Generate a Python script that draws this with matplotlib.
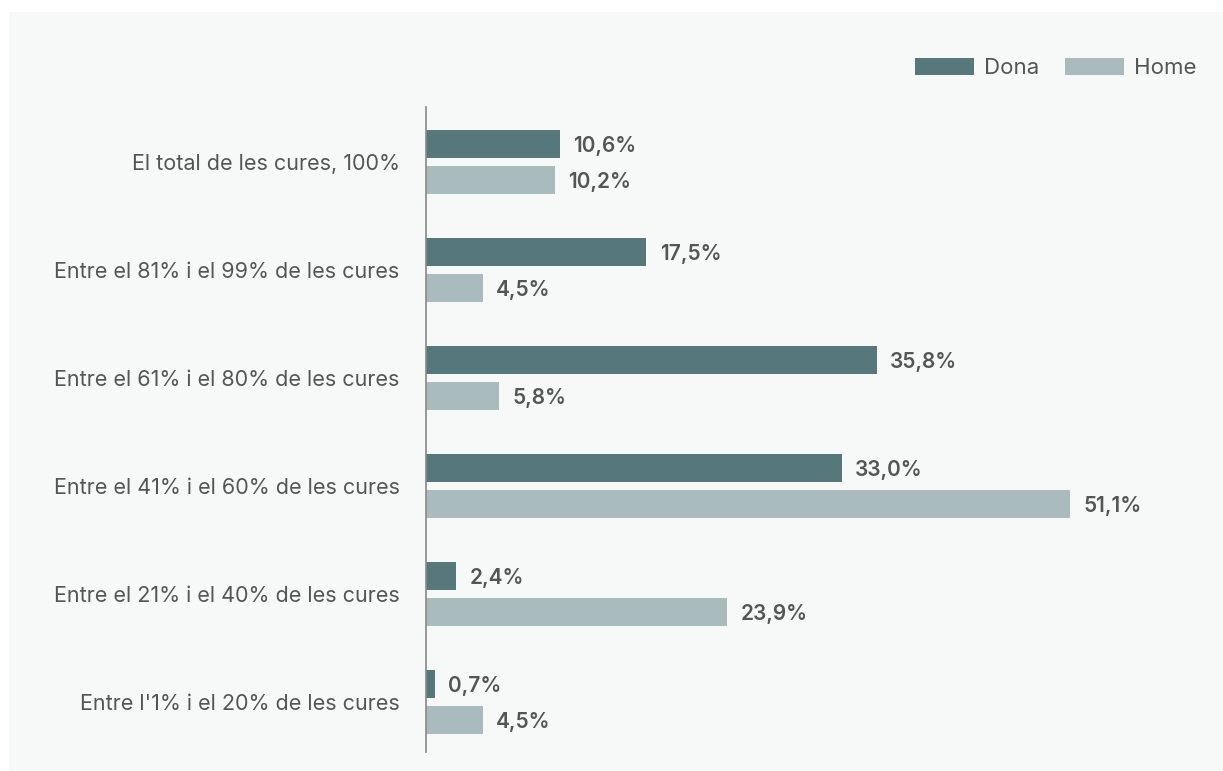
import matplotlib
matplotlib.use("Agg")
import matplotlib.pyplot as plt
from matplotlib.patches import Patch, Rectangle
import numpy as np

categories = [
    "El total de les cures, 100%",
    "Entre el 81% i el 99% de les cures",
    "Entre el 61% i el 80% de les cures",
    "Entre el 41% i el 60% de les cures",
    "Entre el 21% i el 40% de les cures",
    "Entre l'1% i el 20% de les cures",
]
dona = [10.6, 17.5, 35.8, 33.0, 2.4, 0.7]
home = [10.2, 4.5, 5.8, 51.1, 23.9, 4.5]
series_names = ["Dona", "Home"]

c_dona = "#56787a"
c_home = "#aabbbe"
text_c = "#555555"
bg = "#f7f9f8"

plt.rcParams['font.family'] = ['Inter', 'DejaVu Sans']

W, H = 1223, 771
fig = plt.figure(figsize=(W / 100, H / 100), dpi=100)
fig.patch.set_facecolor("white")
fig.patches.append(Rectangle((9 / W, 0), 1 - 9 / W, 1 - 12 / H,
                             transform=fig.transFigure, facecolor=bg,
                             edgecolor="none", zorder=-10))

left = 426 / W
top = 1 - 107 / H
bottom = 1 - 752 / H
xmax = 60
width_px = xmax * 12.6
ax = fig.add_axes([left, bottom, width_px / W, top - bottom])
ax.set_facecolor("none")
ax.set_zorder(1)

y = np.arange(len(categories))
h = 28 / 108
off = 18 / 108
b1 = ax.barh(y - off, dona, height=h, color=c_dona, label=series_names[0])
b2 = ax.barh(y + off, home, height=h, color=c_home, label=series_names[1])

fmt = lambda v: f"{v:.1f}".replace(".", ",") + "%"
for ypos, vals in ((y - off, dona), (y + off, home)):
    for yy, v in zip(ypos, vals):
        ax.annotate(fmt(v), xy=(v, yy), xytext=(9.5, -1.8),
                    textcoords="offset points", ha="left", va="center",
                    fontsize=15, color=text_c, fontweight="semibold")

ax.set_xlim(0, xmax)
ax.set_ylim(5 + 50 / 108, -55 / 108)
ax.set_yticks(y)
ax.set_yticklabels(categories, fontsize=15.5, color=text_c)
ax.tick_params(axis="y", length=0, pad=19)
ax.set_xticks([])
for s in ("top", "right", "bottom"):
    ax.spines[s].set_visible(False)
ax.spines["left"].set_color("#888888")
ax.spines["left"].set_linewidth(1.2)

fs_leg = 16
px = fs_leg * 100 / 72
handles = [Patch(facecolor=c_dona, label=series_names[0]),
           Patch(facecolor=c_home, label=series_names[1])]
leg = fig.legend(handles=handles, loc="upper right",
                 bbox_to_anchor=(1196 / W, 1 - 58 / H), ncol=2, frameon=False,
                 fontsize=fs_leg, labelcolor=text_c, handlelength=59 / px,
                 handleheight=18 / px, handletextpad=10 / px,
                 columnspacing=25 / px, borderaxespad=0, borderpad=0)
leg.set_zorder(2)

fig.savefig("out.png", dpi=100, facecolor=fig.get_facecolor())
